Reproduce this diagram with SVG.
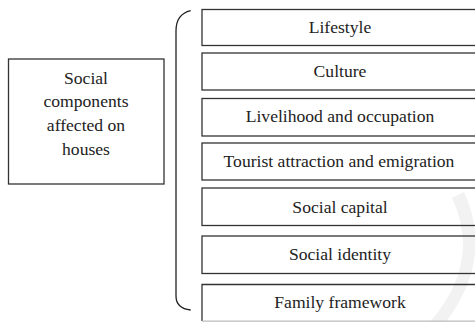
<svg xmlns="http://www.w3.org/2000/svg" width="475" height="322" viewBox="0 0 475 322">
<style>
.box{fill:none;stroke:#333;stroke-width:1.3}
.t{font-family:'Times New Roman','Liberation Serif',Times,serif;font-size:17.6px;fill:#222;text-anchor:middle}
.br{fill:none;stroke:#222;stroke-width:1.3}
</style>
<rect width="475" height="322" fill="#fff"/>
<path d="M452 198 Q482 262 430 322 L446 322 Q494 258 464 192 Z" fill="#f2f2f2"/>
<g id="source">
<rect class="box" x="8.5" y="59" width="155.5" height="125"/>
<text class="t" x="86" y="83.5">Social</text>
<text class="t" x="86" y="107">components</text>
<text class="t" x="86" y="130.5">affected on</text>
<text class="t" x="86" y="155">houses</text>
</g>
<g id="connectors">
<path class="br" d="M190.7 10.7 C181 13 176 20 176 31 L176 296 C176 304 181 309 190.7 310"/>
</g>
<g id="lifestyle"><rect class="box" x="202" y="9.5" width="280" height="36"/><text class="t" x="340" y="33.3">Lifestyle</text></g>
<g id="culture"><rect class="box" x="202" y="53" width="280" height="37"/><text class="t" x="340" y="77.3">Culture</text></g>
<g id="livelihood"><rect class="box" x="202" y="98.5" width="280" height="37.5"/><text class="t" x="340" y="121.7">Livelihood and occupation</text></g>
<g id="tourist"><rect class="box" x="202" y="143" width="280" height="37"/><text class="t" x="339" y="166.7">Tourist attraction and emigration</text></g>
<g id="capital"><rect class="box" x="202" y="188" width="280" height="37.5"/><text class="t" x="340" y="213.3">Social capital</text></g>
<g id="identity"><rect class="box" x="202" y="236" width="280" height="37.5"/><text class="t" x="340" y="260">Social identity</text></g>
<g id="family"><path class="box" d="M202 321 L202 284.5 L482 284.5"/><line x1="202" y1="321.2" x2="482" y2="321.2" stroke="#bbb" stroke-width="1.2"/><text class="t" x="340" y="308.3">Family framework</text></g>
</svg>
